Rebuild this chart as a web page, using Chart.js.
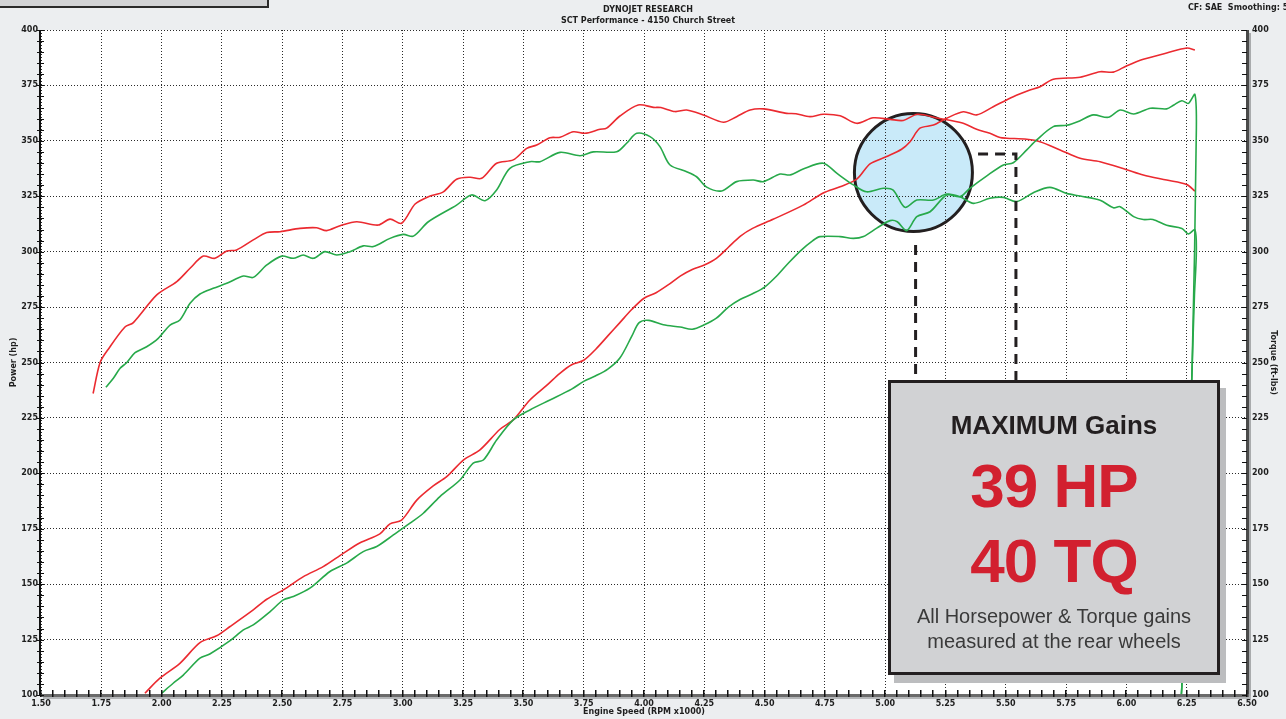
<!DOCTYPE html>
<html>
<head>
<meta charset="utf-8">
<title>Dynojet Research - SCT Performance</title>
<script src="https://cdn.jsdelivr.net/npm/chart.js@4.4.1/dist/chart.umd.min.js"></script>
<style>
    html, body { margin: 0; padding: 0; background: #eceef0; overflow: hidden; }
    #wrap { position: relative; width: 1286px; height: 719px; }
    #dyno { position: absolute; left: 0; top: 0; }

    /* cut-off legend box in the top-left corner */
    .legend-stub {
        position: absolute; left: -4px; top: -20px; width: 273px; height: 28px;
        box-sizing: border-box; border: 2px solid #2a2a2a; background: #d2d3d5;
    }

    .hdr {
        position: absolute; left: 498px; width: 300px; text-align: center;
        font: bold 8px 'DejaVu Sans', Verdana, sans-serif; color: #1e1e1e; white-space: nowrap;
    }
    .hdr-1 { top: 5px; }
    .hdr-2 { top: 16px; }
    .cf {
        position: absolute; left: 1188px; top: 3px;
        font: bold 8px 'DejaVu Sans', Verdana, sans-serif; color: #1e1e1e; white-space: nowrap;
    }

    /* gains call-out */
    .gains {
        position: absolute; left: 888px; top: 380px; width: 332px; height: 295px;
        box-sizing: border-box; border: 3px solid #231f20; background: #d1d2d4;
        box-shadow: 6px 8px 0 #bcbdbf;
        font-family: 'Liberation Sans', Arial, sans-serif;
    }
    .gains div { position: absolute; left: 0; right: 0; text-align: center; white-space: nowrap; }
    .g-head { top: 29px; font-size: 26px; line-height: 26px; font-weight: bold; color: #231f20; }
    .g-big { font-size: 62px; line-height: 62px; font-weight: bold; color: #d2202f; letter-spacing: -1px; }
    .g-hp { top: 72px; }
    .g-tq { top: 147px; }
    .g-note { font-size: 20px; line-height: 20px; color: #3a3a3a; }
    .g-n1 { top: 223px; }
    .g-n2 { top: 248px; }
</style>
</head>
<body>
<div id="wrap">
    <canvas id="dyno" width="1286" height="719"></canvas>
    <div class="legend-stub"></div>
    <div class="hdr hdr-1">DYNOJET RESEARCH</div>
    <div class="hdr hdr-2">SCT Performance - 4150 Church Street</div>
    <div class="cf">CF: SAE&nbsp;&nbsp;Smoothing: 5</div>
    <div class="gains">
        <div class="g-head">MAXIMUM Gains</div>
        <div class="g-big g-hp">39 HP</div>
        <div class="g-big g-tq">40 TQ</div>
        <div class="g-note g-n1">All Horsepower &amp; Torque gains</div>
        <div class="g-note g-n2">measured at the rear wheels</div>
    </div>
</div>

<script>
// ========== DATA ==========

// axis ranges (RPM x1000 and hp / ft-lbs share 100..400)
const rpmMin = 1.5, rpmMax = 6.5, rpmStep = 0.25, rpmMinorStep = 0.05;
const valMin = 100, valMax = 400, valStep = 25, valMinorStep = 5;

// tuned run (red) - power
const redPowerRpm = [1.931, 1.993, 2.076, 2.159, 2.228, 2.284, 2.38, 2.436, 2.505, 2.588, 2.67, 2.753, 2.823, 2.905, 2.947, 2.995, 3.058, 3.126, 3.182, 3.251, 3.32, 3.403, 3.458, 3.527, 3.60, 3.65, 3.70, 3.75, 3.80, 3.85, 3.90, 3.95, 4.00, 4.05, 4.10, 4.15, 4.20, 4.25, 4.30, 4.35, 4.40, 4.45, 4.535, 4.66, 4.743, 4.813, 4.882, 4.937, 5.006, 5.068, 5.103, 5.144, 5.20, 5.255, 5.324, 5.379, 5.448, 5.531, 5.60, 5.642, 5.697, 5.808, 5.891, 5.946, 6.00, 6.07, 6.167, 6.25, 6.284];
const redPowerHp = [100.8, 107.6, 114.3, 123.6, 126.7, 130.9, 138.4, 143.2, 147.4, 153.4, 157.9, 163.9, 168.7, 172.7, 177.2, 178.9, 187.9, 194.3, 198.5, 206, 210.6, 219.9, 224.1, 233.1, 240, 245, 249, 251, 256, 262, 268, 274, 279, 281.5, 285, 289, 292, 294, 297, 302, 307, 310.5, 314.6, 321, 326.5, 329.3, 332.7, 339.6, 342.9, 346.2, 349.6, 355.7, 357.1, 360.2, 363.1, 361.7, 365.4, 369.9, 372.9, 374.4, 377.8, 378.7, 381.2, 381, 383.8, 386.8, 389.6, 391.9, 391];

// stock run (green) - power, with the roll-down tail at the end
const greenPowerRpm = [2.0, 2.048, 2.09, 2.159, 2.2, 2.284, 2.339, 2.38, 2.45, 2.505, 2.546, 2.615, 2.698, 2.767, 2.836, 2.892, 2.961, 3.03, 3.085, 3.154, 3.237, 3.292, 3.334, 3.389, 3.458, 3.527, 3.61, 3.70, 3.75, 3.80, 3.85, 3.90, 3.95, 3.98, 4.02, 4.08, 4.15, 4.20, 4.25, 4.30, 4.35, 4.40, 4.45, 4.50, 4.55, 4.60, 4.65, 4.70, 4.73, 4.813, 4.868, 4.91, 4.965, 5.02, 5.05, 5.089, 5.131, 5.186, 5.255, 5.31, 5.351, 5.42, 5.49, 5.531, 5.587, 5.628, 5.697, 5.752, 5.808, 5.863, 5.925, 5.975, 6.03, 6.10, 6.167, 6.197, 6.23, 6.257, 6.284, 6.29, 6.272, 6.23, 6.224];
const greenPowerHp = [100.8, 105.3, 109, 116.6, 118.5, 124.5, 129.4, 131.6, 137.6, 142.9, 144.4, 148.2, 155.7, 159.5, 164.7, 167, 172.2, 177.5, 182, 189.5, 197, 204.6, 206, 215, 224.1, 228.6, 233.1, 238, 241.5, 244, 247, 252, 262, 268, 269, 267, 266, 265, 267, 270, 275, 278.5, 281, 284, 289, 295, 300.5, 305, 306.8, 306.8, 306, 306.8, 310.6, 314, 313.5, 309.5, 315.8, 318, 325.6, 324.8, 328.6, 334.1, 339.1, 340.1, 345.9, 350.4, 356.4, 357, 359.1, 361.7, 360.6, 363.9, 362.1, 364.7, 364.4, 366.2, 368.1, 366.9, 370.9, 355, 246, 104, 95];

// tuned run (red) - torque
const redTorqueRpm = [1.716, 1.745, 1.779, 1.848, 1.883, 1.98, 2.063, 2.118, 2.173, 2.221, 2.27, 2.311, 2.38, 2.436, 2.491, 2.574, 2.643, 2.684, 2.74, 2.809, 2.898, 2.947, 2.995, 3.051, 3.106, 3.168, 3.223, 3.279, 3.327, 3.389, 3.458, 3.514, 3.555, 3.61, 3.652, 3.707, 3.755, 3.818, 3.845, 3.90, 3.976, 4.039, 4.07, 4.129, 4.177, 4.246, 4.329, 4.384, 4.44, 4.495, 4.592, 4.63, 4.688, 4.743, 4.813, 4.882, 4.95, 5.02, 5.075, 5.134, 5.22, 5.32, 5.379, 5.434, 5.476, 5.504, 5.587, 5.642, 5.725, 5.808, 5.891, 6.001, 6.07, 6.167, 6.25, 6.284];
const redTorqueFtlb = [236, 250, 256, 266, 268, 280.5, 286.5, 292.5, 298, 297, 300.3, 300.8, 305.3, 308.6, 309, 310.5, 310.8, 309.5, 311.7, 313.5, 312, 314.7, 312.8, 321.5, 324.8, 327, 332.7, 333.6, 333.1, 339.9, 341.4, 346.6, 348.1, 351.4, 351.6, 354.1, 353.4, 355.2, 355.7, 361.2, 366.2, 365.1, 365, 363.2, 363.9, 361.7, 358.4, 360.9, 363.9, 364.4, 362.4, 362.2, 360.9, 362, 361.3, 357.9, 360.4, 359.7, 359.2, 362, 360.2, 358, 355.2, 353.4, 351.5, 351.2, 350.7, 349.6, 345.9, 342.1, 340.6, 337, 334.6, 332.3, 330.3, 327.3];

// stock run (green) - torque, with the roll-down tail at the end
const greenTorqueRpm = [1.769, 1.8, 1.828, 1.855, 1.89, 1.938, 1.986, 2.035, 2.076, 2.118, 2.159, 2.214, 2.27, 2.339, 2.38, 2.436, 2.498, 2.546, 2.587, 2.629, 2.677, 2.726, 2.781, 2.836, 2.878, 2.947, 3.002, 3.044, 3.106, 3.223, 3.285, 3.341, 3.389, 3.444, 3.527, 3.569, 3.652, 3.735, 3.79, 3.887, 3.928, 3.97, 4.025, 4.066, 4.108, 4.177, 4.218, 4.26, 4.322, 4.384, 4.453, 4.495, 4.564, 4.605, 4.66, 4.743, 4.799, 4.868, 4.923, 4.992, 5.033, 5.082, 5.131, 5.20, 5.255, 5.31, 5.366, 5.434, 5.49, 5.545, 5.614, 5.683, 5.752, 5.808, 5.891, 5.946, 5.974, 6.03, 6.07, 6.11, 6.167, 6.23, 6.257, 6.284, 6.29, 6.282, 6.272, 6.23, 6.224];
const greenTorqueFtlb = [238.8, 242.9, 247.4, 249.9, 254.4, 257.1, 260.9, 266.9, 269.2, 276.7, 280.9, 283.5, 285.7, 289, 288.4, 294, 298, 297, 298.5, 297, 300, 298.5, 300, 302.6, 302.3, 306, 307.8, 307, 313.5, 321, 325.6, 323, 327.8, 337.6, 340.6, 340.6, 344.8, 343.3, 345, 345.1, 348.9, 353.4, 351.9, 347.4, 339.1, 336.1, 333.8, 329.1, 327.4, 331.6, 332.3, 331.6, 335, 334.6, 337.3, 339.9, 335.4, 330.1, 327, 328.6, 327.8, 320, 323.3, 323.3, 326, 324.8, 321.8, 324.1, 324.5, 322.6, 326.6, 329, 326.3, 325.1, 323.2, 319.8, 320.3, 315.8, 314.5, 314.5, 311.9, 310.5, 308, 309.9, 300, 280, 246, 104, 95];

// highlight circle + dashed leaders (in data units)
const circleRpm = 5.117, circleVal = 335.7;
const leaderA = { rpm: 5.126, from: 303, to: 241 };
const leaderB = { rpmStart: 5.385, rpmCorner: 5.542, val: 344.1, to: 241 };

// ========== HELPERS ==========

function toPoints(xs, ys) {
    return xs.map((x, i) => ({ x: x, y: ys[i] }));
}

const RED = '#eb2a30';
const GREEN = '#27a94a';
const INK = '#231f20';

// ========== PLUGIN: plot frame, circle, leaders, axes ==========

const dynoDecor = {
    id: 'dynoDecor',
    beforeDraw(chart) {
        const { ctx, chartArea: a, scales: { x, y } } = chart;
        ctx.save();
        ctx.fillStyle = '#ffffff';
        ctx.fillRect(a.left, a.top, a.right - a.left, a.bottom - a.top);

        ctx.beginPath();
        ctx.arc(x.getPixelForValue(circleRpm), y.getPixelForValue(circleVal), 59, 0, Math.PI * 2);
        ctx.fillStyle = '#c9eaf9';
        ctx.fill();
        ctx.restore();
    },
    beforeDatasetsDraw(chart) {
        const { ctx, scales: { x, y } } = chart;
        ctx.save();
        ctx.beginPath();
        ctx.arc(x.getPixelForValue(circleRpm), y.getPixelForValue(circleVal), 59, 0, Math.PI * 2);
        ctx.lineWidth = 3;
        ctx.strokeStyle = INK;
        ctx.stroke();
        ctx.restore();
    },
    afterDatasetsDraw(chart) {
        const { ctx, chartArea: a, scales: { x, y } } = chart;
        ctx.save();

        // dashed leaders from the circle to the call-out
        ctx.strokeStyle = INK;
        ctx.lineWidth = 3;
        ctx.setLineDash([10, 7]);
        ctx.beginPath();
        ctx.moveTo(x.getPixelForValue(leaderA.rpm), y.getPixelForValue(leaderA.from));
        ctx.lineTo(x.getPixelForValue(leaderA.rpm), y.getPixelForValue(leaderA.to));
        ctx.stroke();
        ctx.beginPath();
        ctx.moveTo(x.getPixelForValue(leaderB.rpmStart), y.getPixelForValue(leaderB.val));
        ctx.lineTo(x.getPixelForValue(leaderB.rpmCorner), y.getPixelForValue(leaderB.val));
        ctx.lineTo(x.getPixelForValue(leaderB.rpmCorner), y.getPixelForValue(leaderB.to));
        ctx.stroke();
        ctx.setLineDash([]);

        // right axis: dark bar with light shadow
        ctx.fillStyle = '#a9abad';
        ctx.fillRect(a.right + 1, a.top + 3, 3, a.bottom - a.top);
        ctx.fillStyle = '#4a4a4a';
        ctx.fillRect(a.right - 1, a.top, 3, a.bottom - a.top + 1);

        // bottom axis: grey bar with shadow
        ctx.fillStyle = '#b4b6b8';
        ctx.fillRect(a.left + 2, a.bottom + 1, a.right - a.left + 2, 3);
        ctx.fillStyle = '#6a6a6a';
        ctx.fillRect(a.left, a.bottom - 1, a.right - a.left + 2, 3);

        // left axis: thin black line
        ctx.fillStyle = '#111';
        ctx.fillRect(a.left - 2, a.top, 2, a.bottom - a.top + 1);

        // minor ticks on the value axes
        for (let v = valMin; v <= valMax + 0.01; v += valMinorStep) {
            const py = Math.round(y.getPixelForValue(v));
            ctx.fillRect(a.left - 4, py, 7, 1);
            ctx.fillRect(a.right - 5, py, 5, 1);
        }
        // minor ticks on the rpm axis
        const n = Math.round((rpmMax - rpmMin) / rpmMinorStep);
        for (let i = 0; i <= n; i++) {
            const px = Math.round(x.getPixelForValue(rpmMin + i * rpmMinorStep));
            ctx.fillRect(px - 1, a.bottom - 5, 1.5, 7);
        }
        ctx.restore();
    }
};

// ========== CHART ==========

Chart.defaults.font.family = "'DejaVu Sans', Verdana, sans-serif";
Chart.defaults.color = '#1e1e1e';

const tickFont = { size: 8, weight: 'bold' };
const titleFont = { size: 8, weight: 'bold' };

function lineSet(label, xs, ys, color, axis) {
    return {
        label: label,
        data: toPoints(xs, ys),
        yAxisID: axis,
        borderColor: color,
        backgroundColor: color,
        borderWidth: 1.6,
        pointRadius: 0,
        tension: 0.3,
        fill: false
    };
}

new Chart(document.getElementById('dyno').getContext('2d'), {
    type: 'line',
    data: {
        datasets: [
            lineSet('Stock Torque', greenTorqueRpm, greenTorqueFtlb, GREEN, 'y2'),
            lineSet('Stock Power', greenPowerRpm, greenPowerHp, GREEN, 'y'),
            lineSet('SCT Torque', redTorqueRpm, redTorqueFtlb, RED, 'y2'),
            lineSet('SCT Power', redPowerRpm, redPowerHp, RED, 'y')
        ]
    },
    options: {
        responsive: false,
        animation: false,
        layout: { padding: { top: 30, left: 0, right: 0, bottom: 0 } },
        plugins: {
            legend: { display: false },
            tooltip: { enabled: false }
        },
        scales: {
            x: {
                type: 'linear',
                min: rpmMin,
                max: rpmMax,
                ticks: {
                    stepSize: rpmStep,
                    autoSkip: false,
                    maxRotation: 0,
                    padding: 4,
                    font: tickFont,
                    color: '#1e1e1e',
                    callback: v => Number(v).toFixed(2)
                },
                grid: { color: '#2a2a2a', lineWidth: 1, drawTicks: false },
                border: { display: false, dash: [1, 2] },
                title: {
                    display: true,
                    text: 'Engine Speed (RPM x1000)',
                    font: titleFont,
                    color: '#1e1e1e',
                    padding: { top: 0, bottom: 2.5 }
                },
                afterFit: s => { s.height = 24; }
            },
            y: {
                position: 'left',
                min: valMin,
                max: valMax,
                ticks: { stepSize: valStep, padding: 3, font: tickFont, color: '#1e1e1e' },
                grid: { color: '#2a2a2a', lineWidth: 1, drawTicks: false },
                border: { display: false, dash: [1, 2] },
                title: {
                    display: true,
                    text: 'Power (hp)',
                    font: titleFont,
                    color: '#1e1e1e',
                    padding: { top: 9, bottom: 0 }
                },
                afterFit: s => { s.width = 41; }
            },
            y2: {
                position: 'right',
                min: valMin,
                max: valMax,
                ticks: { stepSize: valStep, padding: 5, font: tickFont, color: '#1e1e1e' },
                grid: { drawOnChartArea: false, drawTicks: false },
                border: { display: false },
                title: {
                    display: true,
                    text: 'Torque (ft-lbs)',
                    font: titleFont,
                    color: '#1e1e1e',
                    padding: { top: 8, bottom: 0 }
                },
                afterFit: s => { s.width = 39; }
            }
        }
    },
    plugins: [dynoDecor]
});
</script>
</body>
</html>
